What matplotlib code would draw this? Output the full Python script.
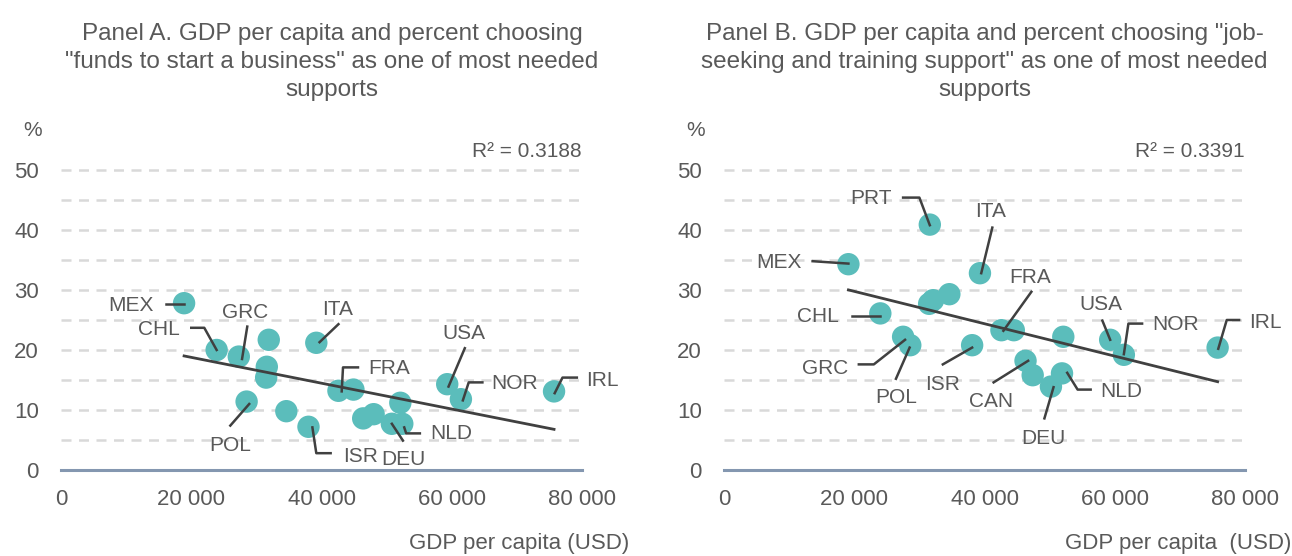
import numpy as np
import matplotlib
matplotlib.use('Agg')
import matplotlib.pyplot as plt
from matplotlib import font_manager

# GDP per capita (thousand USD) and % choosing each support
countries_a = ['MEX', 'CHL', 'GRC', 'POL', '', '', '', '', 'ISR', 'ITA',
               'FRA', '', '', '', 'DEU', 'NLD', '', 'USA', 'NOR', 'IRL']
gdp_a = [18.9, 23.9, 27.3, 28.5, 31.9, 31.6, 31.5, 34.6, 38.0, 39.2,
         42.6, 44.9, 46.4, 48.0, 50.8, 52.4, 52.1, 59.3, 61.4, 75.7]
funds_pct = [27.8, 20.0, 18.9, 11.4, 21.7, 17.2, 15.4, 9.8, 7.2, 21.2,
             13.2, 13.4, 8.6, 9.3, 7.7, 7.7, 11.2, 14.3, 11.8, 13.1]

countries_b = ['MEX', 'CHL', 'GRC', 'POL', 'PRT', '', '', '', 'ISR', 'ITA',
               'FRA', '', 'CAN', '', 'DEU', 'NLD', '', 'USA', 'NOR', 'IRL']
gdp_b = [19.1, 24.0, 27.5, 28.6, 31.6, 31.5, 32.1, 34.6, 38.1, 39.3,
         42.6, 44.5, 46.3, 47.4, 50.2, 51.9, 52.1, 59.3, 61.4, 75.8]
jobs_pct = [34.3, 26.1, 22.2, 20.8, 40.9, 27.7, 28.3, 29.3, 20.8, 32.8,
            23.3, 23.3, 18.2, 15.8, 13.9, 16.1, 22.2, 21.7, 19.2, 20.4]

r2_a = 'R² = 0.3188'
r2_b = 'R² = 0.3391'

title_a = 'Panel A. GDP per capita and percent choosing\n"funds to start a business" as one of most needed\nsupports'
title_b = 'Panel B. GDP per capita and percent choosing "job-\nseeking and training support" as one of most needed\nsupports'

# label layout: text position (k USD, %), alignment, leader line path
labels_a = {
    'MEX': ((14.3, 27.4), 'right', [(16.2, 27.7), (18.9, 27.7)]),
    'CHL': ((18.2, 23.4), 'right', [(20.0, 23.7), (22.0, 23.7), (23.9, 20.0)]),
    'GRC': ((28.2, 26.3), 'center', [(28.6, 23.9), (27.8, 18.5)]),
    'ITA': ((42.5, 26.7), 'center', [(42.6, 24.3), (39.7, 21.3)]),
    'FRA': ((47.1, 16.9), 'left', [(45.6, 17.1), (43.3, 17.1), (43.1, 13.1)]),
    'USA': ((61.9, 22.8), 'center', [(62.0, 20.3), (59.5, 13.9)]),
    'NOR': ((66.1, 14.4), 'left', [(64.7, 14.6), (62.6, 14.6), (61.7, 11.6)]),
    'IRL': ((80.6, 14.9), 'left', [(79.2, 15.4), (77.0, 15.4), (75.8, 12.8)]),
    'POL': ((26.0, 4.1), 'center', [(26.0, 7.4), (28.9, 11.0)]),
    'ISR': ((43.3, 2.3), 'left', [(38.6, 7.1), (39.2, 2.8), (41.4, 2.8)]),
    'DEU': ((52.5, 1.7), 'center', [(52.5, 4.9), (50.8, 7.7)]),
    'NLD': ((56.7, 6.0), 'left', [(55.1, 6.1), (53.0, 6.1), (52.7, 7.1)]),
}
labels_b = {
    'PRT': ((25.7, 45.3), 'right', [(27.5, 45.4), (30.0, 45.4), (31.6, 40.8)]),
    'ITA': ((41.0, 43.1), 'center', [(41.2, 40.4), (39.5, 32.8)]),
    'MEX': ((11.9, 34.5), 'right', [(13.6, 34.8), (19.1, 34.4)]),
    'FRA': ((47.0, 32.1), 'center', [(47.2, 29.7), (42.9, 23.2)]),
    'CHL': ((17.6, 25.6), 'right', [(19.6, 25.7), (24.0, 25.7)]),
    'USA': ((57.8, 27.5), 'center', [(58.1, 24.9), (59.3, 21.7)]),
    'NOR': ((65.7, 24.2), 'left', [(64.2, 24.4), (62.1, 24.4), (61.4, 19.3)]),
    'IRL': ((80.6, 24.6), 'left', [(79.1, 25.0), (77.2, 25.0), (75.9, 20.2)]),
    'GRC': ((15.5, 16.9), 'center', [(20.7, 17.6), (23.0, 17.6), (27.8, 21.7)]),
    'POL': ((26.5, 12.1), 'center', [(26.4, 15.2), (28.5, 20.4)]),
    'ISR': ((33.5, 14.2), 'center', [(33.6, 17.6), (38.1, 20.4)]),
    'CAN': ((41.0, 11.4), 'center', [(41.4, 14.6), (46.7, 18.2)]),
    'DEU': ((49.1, 5.3), 'center', [(49.2, 8.6), (50.6, 13.8)]),
    'NLD': ((57.8, 13.1), 'left', [(56.3, 13.4), (54.3, 13.4), (52.7, 16.2)]),
}

names = {f.name for f in font_manager.fontManager.ttflist}
narrow = 'Liberation Sans Narrow' if 'Liberation Sans Narrow' in names else 'Liberation Sans'
plt.rcParams['font.family'] = [narrow, 'DejaVu Sans']

TEXT = '#595959'
TEAL = '#5BBDBB'
LINE = '#404040'

fig = plt.figure(figsize=(12.92, 5.56), dpi=100)
ax_a = fig.add_axes([0.0472, 0.1547, 0.4033, 0.5935])
ax_b = fig.add_axes([0.5604, 0.1547, 0.4032, 0.5935])


def draw_panel(ax, gdp, pct, labels, r2, title, xlabel, title_x):
    x = np.array(gdp) * 1000
    y = np.array(pct)
    ax.set_xlim(0, 80000)
    ax.set_ylim(0, 55)
    for s in ax.spines.values():
        s.set_visible(False)
    ax.axhline(0, color='#8497B0', lw=2.2, zorder=2, clip_on=False)
    for g in range(5, 55, 5):
        ax.axhline(g, color='#D9D9D9', lw=1.8, dashes=(4, 3), zorder=0)
    ax.set_yticks(range(0, 51, 10))
    ax.set_xticks(range(0, 80001, 20000))
    ax.set_xticklabels(['0', '20 000', '40 000', '60 000', '80 000'])
    ax.tick_params(length=0, labelsize=16, colors=TEXT)
    ax.tick_params(axis='y', pad=16)
    ax.tick_params(axis='x', pad=14)

    # linear trend
    k, b = np.polyfit(x, y, 1)
    xs = np.array([x.min(), x.max()])
    ax.plot(xs, k * xs + b, color=LINE, lw=2, zorder=4)
    ax.scatter(x, y, s=260, color=TEAL, edgecolors='none', zorder=3)

    for name, ((tx, ty), ha, path) in labels.items():
        px, py = zip(*path)
        ax.plot(np.array(px) * 1000, py, color=LINE, lw=1.8, zorder=5, clip_on=False)
        ax.text(tx * 1000, ty, name, ha=ha, va='center', fontsize=15, color=TEXT,
                zorder=6, clip_on=False)

    ax.text(1.0, 0.965, r2, transform=ax.transAxes, ha='right', va='center',
            fontsize=15, color=TEXT)
    ax.text(-0.055, 1.0, '%', transform=ax.transAxes, ha='center', va='bottom',
            fontsize=15, color=TEXT)
    ax.set_title(title, fontsize=17.5, color=TEXT, family='Liberation Sans',
                 linespacing=1.35, pad=32, x=title_x)
    ax.text(1.09, -0.222, xlabel, transform=ax.transAxes, ha='right', va='center',
            fontsize=16, color=TEXT)


draw_panel(ax_a, gdp_a, funds_pct, labels_a, r2_a, title_a, 'GDP per capita (USD)', 0.52)
draw_panel(ax_b, gdp_b, jobs_pct, labels_b, r2_b, title_b, 'GDP per capita  (USD)', 0.5)

fig.savefig('out.png', dpi=100)
